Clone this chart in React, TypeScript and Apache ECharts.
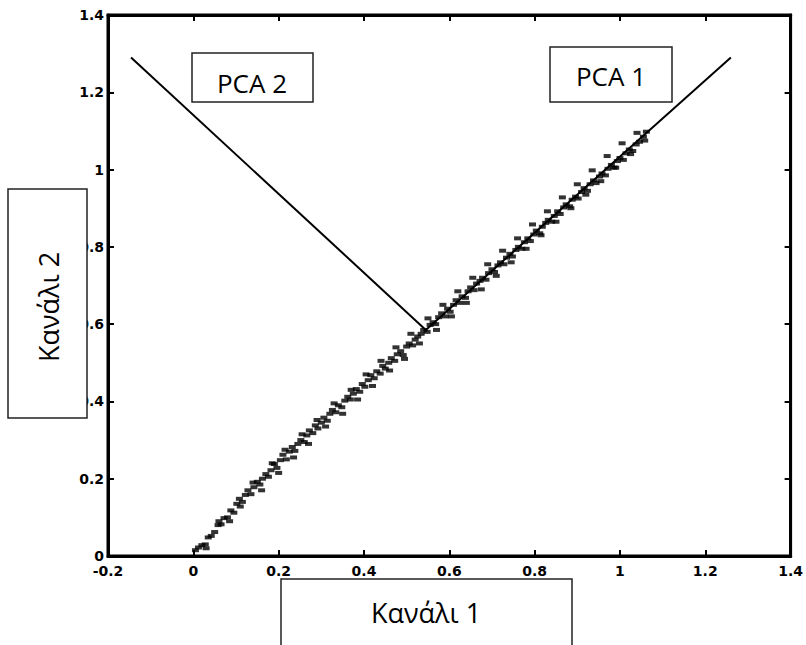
import React, { useEffect, useRef } from "react";
import * as echarts from "echarts";

// Axis ranges / ticks
const xRange = [-0.2, 1.4];
const yRange = [0, 1.4];
const tickStep = 0.2;

// Principal component lines
const pca2Line = [
  [-0.146, 1.29],
  [0.545, 0.585],
];
const pca1Line = [
  [0.545, 0.585],
  [1.26, 1.29],
];

// Scatter data (Κανάλι 1, Κανάλι 2)
const scatterPoints = [
  [0.005, 0.015], [0.012, 0.022], [0.02, 0.028], [0.028, 0.03], [0.035, 0.048],
  [0.042, 0.052], [0.05, 0.062], [0.058, 0.08], [0.065, 0.082], [0.072, 0.098],
  [0.08, 0.1], [0.088, 0.118], [0.095, 0.112], [0.102, 0.135], [0.108, 0.148],
  [0.115, 0.14], [0.122, 0.158], [0.128, 0.17], [0.135, 0.16], [0.142, 0.178],
  [0.15, 0.192], [0.156, 0.185], [0.162, 0.2], [0.17, 0.212], [0.176, 0.205],
  [0.182, 0.222], [0.19, 0.238], [0.196, 0.228], [0.204, 0.248], [0.21, 0.262],
  [0.218, 0.25], [0.225, 0.27], [0.232, 0.282], [0.238, 0.272], [0.245, 0.29],
  [0.252, 0.3], [0.26, 0.295], [0.266, 0.312], [0.272, 0.325], [0.28, 0.318],
  [0.286, 0.338], [0.292, 0.33], [0.3, 0.345], [0.306, 0.358], [0.314, 0.35],
  [0.32, 0.368], [0.326, 0.378], [0.334, 0.372], [0.34, 0.39], [0.348, 0.385],
  [0.355, 0.402], [0.362, 0.412], [0.368, 0.405], [0.375, 0.42], [0.382, 0.432],
  [0.39, 0.425], [0.396, 0.445], [0.402, 0.438], [0.41, 0.455], [0.416, 0.468],
  [0.424, 0.46], [0.43, 0.478], [0.438, 0.472], [0.444, 0.492], [0.45, 0.485],
  [0.458, 0.5], [0.464, 0.512], [0.472, 0.505], [0.478, 0.522], [0.486, 0.53],
  [0.492, 0.52], [0.5, 0.542], [0.506, 0.55], [0.514, 0.545], [0.52, 0.56],
  [0.526, 0.568], [0.534, 0.575], [0.54, 0.585], [0.548, 0.58], [0.555, 0.598],
  [0.562, 0.605], [0.568, 0.6], [0.575, 0.618], [0.582, 0.628], [0.59, 0.62],
  [0.596, 0.64], [0.602, 0.632], [0.61, 0.65], [0.616, 0.662], [0.624, 0.655],
  [0.63, 0.672], [0.638, 0.668], [0.644, 0.685], [0.65, 0.695], [0.658, 0.688],
  [0.664, 0.705], [0.672, 0.712], [0.678, 0.72], [0.686, 0.715], [0.692, 0.732],
  [0.7, 0.742], [0.706, 0.735], [0.714, 0.752], [0.72, 0.76], [0.728, 0.755],
  [0.734, 0.772], [0.742, 0.782], [0.748, 0.775], [0.756, 0.792], [0.762, 0.8],
  [0.77, 0.795], [0.776, 0.812], [0.784, 0.822], [0.79, 0.815], [0.798, 0.832],
  [0.804, 0.842], [0.812, 0.835], [0.818, 0.852], [0.826, 0.862], [0.832, 0.87],
  [0.84, 0.865], [0.846, 0.88], [0.854, 0.892], [0.86, 0.885], [0.868, 0.902],
  [0.874, 0.91], [0.882, 0.905], [0.888, 0.922], [0.896, 0.93], [0.902, 0.925],
  [0.91, 0.942], [0.916, 0.952], [0.924, 0.945], [0.93, 0.962], [0.938, 0.972],
  [0.944, 0.965], [0.952, 0.982], [0.958, 0.99], [0.966, 0.985], [0.972, 1.002],
  [0.98, 1.012], [0.986, 1.005], [0.994, 1.022], [1.0, 1.03], [1.008, 1.025],
  [1.014, 1.042], [1.022, 1.052], [1.03, 1.048], [1.038, 1.065], [1.046, 1.072],
  [1.055, 1.085], [1.062, 1.098],
];

// Outlying points of the same cloud (wider spread around the main band)
const scatterSpread = [
  [0.03, 0.02], [0.06, 0.09], [0.085, 0.09], [0.11, 0.128], [0.14, 0.19],
  [0.16, 0.17], [0.185, 0.24], [0.2, 0.215], [0.215, 0.275], [0.235, 0.255],
  [0.255, 0.315], [0.27, 0.29], [0.29, 0.352], [0.31, 0.335], [0.33, 0.395],
  [0.35, 0.368], [0.37, 0.43], [0.385, 0.405], [0.405, 0.47], [0.42, 0.44],
  [0.44, 0.505], [0.46, 0.48], [0.475, 0.54], [0.495, 0.51], [0.51, 0.575],
  [0.53, 0.55], [0.55, 0.615], [0.57, 0.585], [0.585, 0.65], [0.605, 0.62],
  [0.62, 0.685], [0.64, 0.655], [0.655, 0.72], [0.675, 0.69], [0.69, 0.755],
  [0.71, 0.725], [0.725, 0.79], [0.745, 0.76], [0.76, 0.822], [0.78, 0.795],
  [0.795, 0.858], [0.815, 0.83], [0.83, 0.892], [0.85, 0.865], [0.865, 0.928],
  [0.885, 0.9], [0.9, 0.962], [0.92, 0.935], [0.935, 0.998], [0.955, 0.97],
  [0.97, 1.035], [0.99, 1.005], [1.005, 1.068], [1.025, 1.04], [1.04, 1.095],
  [1.058, 1.075],
];

const labelPca1 = "PCA 1";
const labelPca2 = "PCA 2";
const labelX = "Κανάλι 1";
const labelY = "Κανάλι 2";

const annFont = "Open Sans";

const al = () => ({ show: true, onZero: false, lineStyle: { color: "black", width: 3 } });
const at = () => ({ show: true, inside: true, length: 6, lineStyle: { color: "black", width: 2 } });
const lbl = (margin: number) => ({
  show: true,
  color: "#000",
  fontFamily: "DejaVu Sans",
  fontWeight: "bold",
  fontSize: 14,
  margin,
});

function box(x: number, y: number, w: number, h: number) {
  return {
    type: "rect",
    shape: { x, y, width: w, height: h },
    style: { fill: "#fff", stroke: "#222", lineWidth: 1.5 },
    z: 10,
  };
}

export default function App() {
  const ref = useRef<HTMLDivElement>(null);
  useEffect(() => {
    if (!ref.current) return;
    const chart = echarts.init(ref.current, undefined, { renderer: "svg" });
    const scatter = (data: number[][]) => ({
      type: "scatter",
      data,
      symbol: "rect",
      symbolSize: [7, 4],
      itemStyle: { color: "#000" },
    });
    chart.setOption({
      animation: false,
      grid: {
        left: 108, top: 15, right: 13, bottom: 89,
        show: true, borderColor: "black", borderWidth: 3, backgroundColor: "transparent",
      },
      xAxis: [
        { type: "value", min: xRange[0], max: xRange[1], interval: tickStep, position: "bottom", axisLine: al(), axisTick: at(), axisLabel: lbl(8), splitLine: { show: false } },
        { type: "value", min: xRange[0], max: xRange[1], interval: tickStep, position: "top", axisLine: al(), axisTick: at(), axisLabel: { show: false }, splitLine: { show: false } },
      ],
      yAxis: [
        { type: "value", min: yRange[0], max: yRange[1], interval: tickStep, position: "left", axisLine: al(), axisTick: at(), axisLabel: lbl(4), splitLine: { show: false } },
        { type: "value", min: yRange[0], max: yRange[1], interval: tickStep, position: "right", axisLine: al(), axisTick: at(), axisLabel: { show: false }, splitLine: { show: false } },
      ],
      series: [
        scatter(scatterPoints),
        scatter(scatterSpread),
        { type: "line", data: pca2Line, showSymbol: false, lineStyle: { color: "#000", width: 2 } },
        { type: "line", data: pca1Line, showSymbol: false, lineStyle: { color: "#000", width: 2 } },
      ],
      graphic: [
        box(192, 53, 121, 49),
        {
          type: "text", x: 252, y: 83, z: 11,
          style: { text: labelPca2, fontFamily: annFont, fontSize: 26, fill: "#000", align: "center", verticalAlign: "middle" },
        },
        box(550, 47, 122, 55),
        {
          type: "text", x: 611, y: 76, z: 11,
          style: { text: labelPca1, fontFamily: annFont, fontSize: 26, fill: "#000", align: "center", verticalAlign: "middle" },
        },
        box(8, 189, 79, 229),
        {
          type: "text", x: 48, y: 307, z: 11, rotation: Math.PI / 2,
          style: { text: labelY, fontFamily: annFont, fontSize: 27, fill: "#000", align: "center", verticalAlign: "middle" },
        },
        box(281, 579, 291, 90),
        {
          type: "text", x: 426, y: 612, z: 11,
          style: { text: labelX, fontFamily: annFont, fontSize: 27, fill: "#000", align: "center", verticalAlign: "middle" },
        },
      ],
    });
    return () => chart.dispose();
  }, []);
  return <div ref={ref} style={{ position: "absolute", left: 0, top: 0, width: 806, height: 645 }} />;
}
